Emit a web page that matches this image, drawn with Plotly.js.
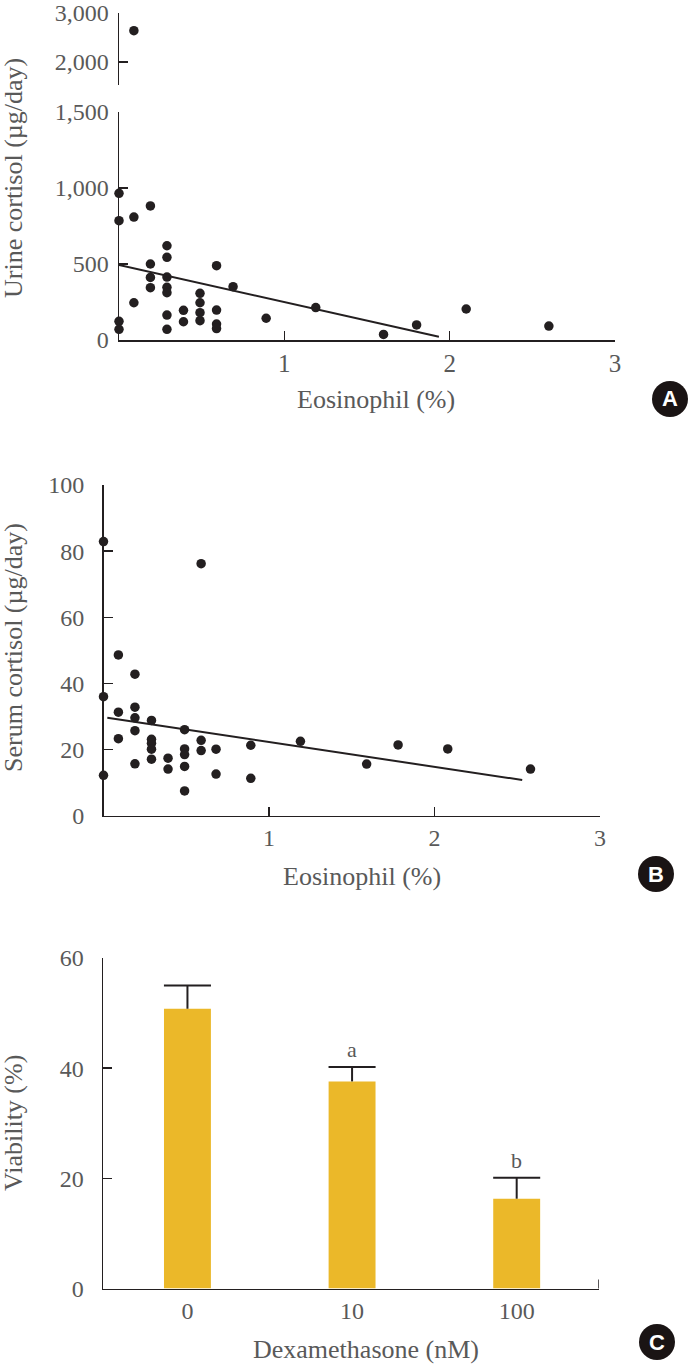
<!DOCTYPE html>
<html>
<head>
<meta charset="utf-8">
<script src="https://cdn.plot.ly/plotly-3.0.1.min.js"></script>
<style>
  html, body { margin: 0; padding: 0; background: #fff; }
  #chart { width: 690px; height: 1364px; }
</style>
</head>
<body>
<div id="chart"></div>
<script>
// Panel A: eosinophil (%) vs 24-h urine cortisol
const urineEos = [0, 0, 0, 0, 0.09, 0.09, 0.09, 0.19, 0.19, 0.19, 0.19,
  0.29, 0.29, 0.29, 0.29, 0.29, 0.29, 0.29, 0.39, 0.39, 0.49, 0.49, 0.49, 0.49,
  0.59, 0.59, 0.59, 0.59, 0.69, 0.89, 1.19, 1.6, 1.8, 2.1, 2.6];
const urineCortisol = [965, 785, 123, 70, 2640, 809, 245, 882, 500, 412, 344,
  620, 544, 414, 347, 311, 164, 70, 195, 120, 307, 245, 180, 127,
  489, 197, 105, 75, 351, 143, 213, 37, 99, 204, 92];
const urineFitX = [0, 1.935];
const urineFitY = [493, 22];

// Panel B: eosinophil (%) vs serum cortisol
const serumEos = [0, 0, 0, 0.09, 0.09, 0.09, 0.19, 0.19, 0.19, 0.19, 0.19,
  0.29, 0.29, 0.29, 0.29, 0.29, 0.39, 0.39, 0.49, 0.49, 0.49, 0.49, 0.49,
  0.59, 0.59, 0.59, 0.68, 0.68, 0.89, 0.89, 1.19, 1.59, 1.78, 2.08, 2.58];
const serumCortisol = [82.9, 36, 12.2, 48.6, 31.3, 23.3, 42.8, 32.8, 29.6, 25.7, 15.7,
  28.8, 23.1, 21.9, 20.1, 17.1, 17.4, 14.1, 26, 20.2, 18.5, 14.9, 7.5,
  76.2, 22.8, 19.7, 20.1, 12.6, 21.3, 11.3, 22.5, 15.6, 21.4, 20.2, 14.1];
const serumFitX = [0.023, 2.53];
const serumFitY = [29.6, 10.8];

// Panel C: viability by dexamethasone dose
const doses = ['0', '10', '100'];
const viability = [50.8, 37.6, 16.3];
const viabilityErr = [4.2, 2.6, 3.8];
const sigLabels = ['', 'a', 'b'];

const panelLetters = ['A', 'B', 'C'];

const W = 690;
const H = 1364;
const INK = '#231f20';
const TEXT = '#595959';
const SERIF = '"Liberation Serif", "Times New Roman", serif';

const fx = (px) => px / W;
const fy = (py) => 1 - py / H;

function axis(extra, size) {
  return {
    showline: true, linecolor: INK, linewidth: 1.5,
    ticks: 'inside', ticklen: 9, tickwidth: 1.5, tickcolor: INK,
    showgrid: false, zeroline: false, fixedrange: true,
    ticklabeloverflow: 'allow',
    tickfont: { family: SERIF, size: size || 24, color: TEXT },
    ...extra,
  };
}

function label(text, x, y, angle) {
  return {
    text, xref: 'paper', yref: 'paper', x: fx(x), y: fy(y),
    xanchor: 'center', yanchor: 'middle', showarrow: false, textangle: angle || 0,
    font: { family: SERIF, size: 26, color: TEXT },
  };
}

const dot = { size: 9.5, color: INK };
const fitLine = { color: INK, width: 2 };
const lowIdx = urineCortisol.map((v, i) => i).filter((i) => urineCortisol[i] <= 1500);
const highIdx = urineCortisol.map((v, i) => i).filter((i) => urineCortisol[i] > 1500);
const tops = viability.map((v, i) => v + viabilityErr[i]);

const traces = [
  { type: 'scatter', mode: 'markers', x: lowIdx.map((i) => urineEos[i]), y: lowIdx.map((i) => urineCortisol[i]),
    xaxis: 'x', yaxis: 'y', marker: dot, cliponaxis: false },
  { type: 'scatter', mode: 'markers', x: highIdx.map((i) => urineEos[i]), y: highIdx.map((i) => urineCortisol[i]),
    xaxis: 'x', yaxis: 'y2', marker: dot, cliponaxis: false },
  { type: 'scatter', mode: 'lines', x: urineFitX, y: urineFitY, xaxis: 'x', yaxis: 'y', line: fitLine },
  { type: 'scatter', mode: 'markers', x: serumEos, y: serumCortisol, xaxis: 'x2', yaxis: 'y3', marker: dot, cliponaxis: false },
  { type: 'scatter', mode: 'lines', x: serumFitX, y: serumFitY, xaxis: 'x2', yaxis: 'y3', line: fitLine },
  { type: 'bar', x: doses, y: viability, xaxis: 'x3', yaxis: 'y4', width: 0.285,
    marker: { color: '#EBB829', line: { width: 0 } } },
  // error caps: line-ew symbol is 1.4 x size wide, so 33.6 gives the 47 px bar width
  { type: 'scatter', mode: 'markers', x: doses, y: tops, xaxis: 'x3', yaxis: 'y4', cliponaxis: false,
    marker: { symbol: 'line-ew', size: 33.6, line: { color: INK, width: 2 } },
    error_y: { type: 'data', symmetric: false, array: [0, 0, 0], arrayminus: viabilityErr,
      width: 0, thickness: 2, color: INK } },
];

const annotations = [
  label('Urine cortisol (µg/day)', 13, 178, -90),
  label('Eosinophil (%)', 376, 400),
  label('Serum cortisol (µg/day)', 13, 648, -90),
  label('Eosinophil (%)', 362, 876),
  label('Viability (%)', 13, 1123, -90),
  label('Dexamethasone (nM)', 366, 1349),
];
sigLabels.forEach((t, i) => {
  if (!t) return;
  annotations.push({
    text: t, xref: 'x3', yref: 'y4', x: i, y: tops[i], yanchor: 'bottom', yshift: 3,
    showarrow: false, font: { family: SERIF, size: 22, color: TEXT },
  });
});

const badgePos = [[670, 399], [656, 874], [657, 1342]];
const shapes = [
  // right end tick of the bar chart's x axis
  { type: 'line', xref: 'x3', yref: 'paper', x0: 2.5, x1: 2.5, y0: fy(1288.5), y1: fy(1279.5),
    line: { color: INK, width: 1.5 } },
];
panelLetters.forEach((t, i) => {
  const [cx, cy] = badgePos[i];
  shapes.push({ type: 'circle', xref: 'paper', yref: 'paper', x0: fx(cx - 18), x1: fx(cx + 18),
    y0: fy(cy + 18), y1: fy(cy - 18), fillcolor: '#1a1414', line: { width: 0 } });
  annotations.push({ text: '<b>' + t + '</b>', xref: 'paper', yref: 'paper', x: fx(cx), y: fy(cy),
    xanchor: 'center', yanchor: 'middle', showarrow: false,
    font: { family: '"Liberation Sans", Arial, sans-serif', size: 22, color: '#fff' } });
});

const layout = {
  width: W, height: H, autosize: false,
  margin: { l: 0, r: 0, t: 0, b: 0 },
  paper_bgcolor: '#fff', plot_bgcolor: 'rgba(0,0,0,0)',
  showlegend: false,
  xaxis: axis({ domain: [fx(119), fx(615)], range: [0, 3], anchor: 'y', tickvals: [1, 2, 3] }, 25),
  yaxis: axis({ domain: [fy(340), fy(112)], range: [0, 1500], anchor: 'x',
    tickvals: [0, 500, 1000, 1500], separatethousands: true, ticklabelstandoff: 4 }),
  // broken-axis upper segment
  yaxis2: axis({ domain: [fy(85), fy(13)], range: [1531, 3000], anchor: 'x',
    tickvals: [1531, 2000, 3000], ticktext: ['', '2,000', '3,000'], ticklabelstandoff: 4 }),
  xaxis2: axis({ domain: [fx(103.5), fx(600)], range: [0, 3], anchor: 'y3', tickvals: [1, 2, 3] }),
  yaxis3: axis({ domain: [fy(815.7), fy(485)], range: [0, 100], anchor: 'x2',
    tickvals: [0, 20, 40, 60, 80, 100], ticklabelstandoff: 13 }),
  xaxis3: axis({ domain: [fx(103), fx(599)], type: 'category', range: [-0.513, 2.5], anchor: 'y4', ticks: '' }),
  yaxis4: axis({ domain: [fy(1288.5), fy(958)], range: [0, 60], anchor: 'x3',
    tickvals: [0, 20, 40, 60], ticklabelstandoff: 13 }),
  annotations,
  shapes,
};

Plotly.newPlot('chart', traces, layout, { staticPlot: true, displayModeBar: false });
</script>
</body>
</html>
